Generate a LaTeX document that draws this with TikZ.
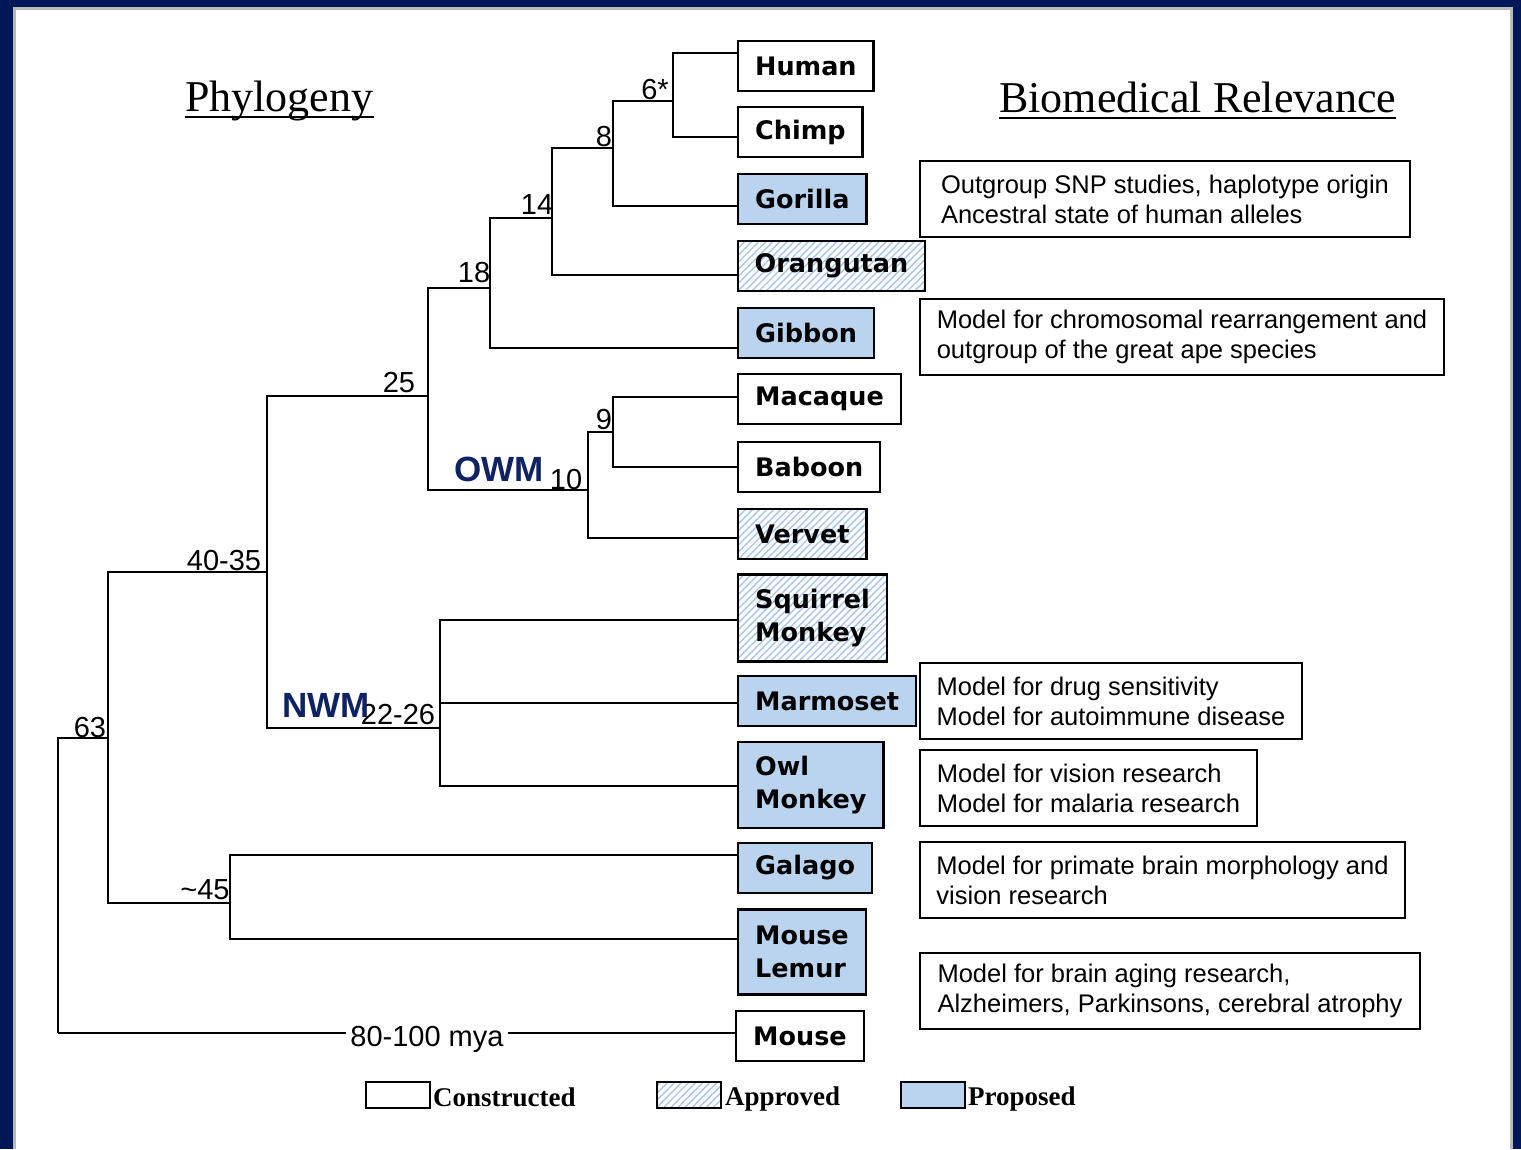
\documentclass[tikz,border=0pt]{standalone}
\usepackage{fontspec}
\setmainfont{Liberation Serif}
\setsansfont{Liberation Sans}
\newfontfamily\speciesfont{DejaVu Sans}
\usepackage{tikz}
\usetikzlibrary{positioning}
\usetikzlibrary{calc}
\usetikzlibrary{patterns.meta}

\definecolor{frameblue}{RGB}{0,24,88}
\definecolor{cladeblue}{RGB}{14,34,100}
\definecolor{proposedblue}{RGB}{186,212,240}
\definecolor{approvedblue}{RGB}{168,198,236}

\begin{document}
\begin{tikzpicture}
	[x=1pt,y=-1pt,
	species/.style={draw=black,line width=2.4pt,anchor=west,align=left,inner xsep=17pt,inner ysep=2pt,minimum height=50pt,font=\speciesfont\bfseries\fontsize{25.5}{33}\selectfont},
	proposed/.style={fill=proposedblue},
	approved/.style={preaction={fill=white},pattern={Lines[angle=45,distance=5pt,line width=1.4pt]},pattern color=approvedblue},
	note/.style={draw=black,line width=2pt,anchor=north west,align=left,minimum width=#1,minimum height=76pt,inner xsep=16pt,font=\sffamily\fontsize{25.5}{30}\selectfont},
	link/.style={draw=black,line width=2pt},
	age/.style={inner sep=0pt,font=\sffamily\fontsize{29}{32}\selectfont},
	clade/.style={inner sep=0pt,text=cladeblue,font=\sffamily\bfseries\fontsize{35}{40}\selectfont},
	heading/.style={inner sep=0pt,anchor=base west,font=\fontsize{44}{50}\selectfont},
	legendbox/.style={draw=black,line width=2pt,minimum width=64pt,minimum height=26pt,inner sep=0pt},
	legend/.style={inner sep=0pt,anchor=base west,font=\bfseries\fontsize{27}{30}\selectfont}]

	\useasboundingbox (0,0) rectangle (1521,1149);

	% Draw the frame
	\fill[frameblue] (0,0) rectangle (1521,1149);
	\fill[gray!55] (13,7) rectangle (1513,1149);
	\fill[white] (16,10) rectangle (1510,1149);

	% Draw the headings
	\draw node at (185,111) [heading](phylo){Phylogeny}
		node at (999,112) [heading](relevance){Biomedical Relevance};
	\draw[line width=2.5pt] ($(phylo.base west)+(0,6)$) -- ($(phylo.base east)+(0,6)$);
	\draw[line width=2.5pt] ($(relevance.base west)+(0,6)$) -- ($(relevance.base east)+(0,6)$);

	% Draw the species boxes
	\draw node at (737,66) [species](human){Human}
		node at (737,132) [species](chimp){Chimp}
		node at (737,199) [species,proposed](gorilla){Gorilla}
		node at (737,266) [species,approved](orangutan){Orangutan}
		node at (737,333) [species,proposed](gibbon){Gibbon}
		node at (737,399) [species](macaque){Macaque}
		node at (737,467) [species](baboon){Baboon}
		node at (737,534) [species,approved](vervet){Vervet}
		node at (737,618) [species,approved,minimum height=87pt](squirrel){Squirrel\\Monkey}
		node at (737,701) [species,proposed](marmoset){Marmoset}
		node at (737,785) [species,proposed,minimum height=86pt](owl){Owl\\Monkey}
		node at (737,868) [species,proposed](galago){Galago}
		node at (737,952) [species,proposed,minimum height=85pt](lemur){Mouse\\Lemur}
		node at (735,1036) [species](mouse){Mouse};

	% Draw the branch points
	\coordinate (c6) at (673,101);
	\coordinate (c8) at (613,148);
	\coordinate (c14) at (552,218);
	\coordinate (c18) at (490,288);
	\coordinate (c25) at (428,396);
	\coordinate (c10) at (588,490);
	\coordinate (c9) at (613,432);
	\coordinate (c40) at (267,572);
	\coordinate (cnwm) at (440,728);
	\coordinate (c63) at (108,738);
	\coordinate (c45) at (230,903);
	\coordinate (root) at (58,1033);

	% Draw the links of the tree
	\draw[link] (c6) |- ($(human.west)+(0,-13)$)
	            (c6) |- ($(chimp.west)+(0,5)$)
	            (c8) |- (c6)
	            (c8) |- ($(gorilla.west)+(0,7)$)
	            (c14) |- (c8)
	            (c14) |- ($(orangutan.west)+(0,9)$)
	            (c18) |- (c14)
	            (c18) |- ($(gibbon.west)+(0,15)$)
	            (c25) |- (c18)
	            (c25) |- (c10)
	            (c10) |- (c9)
	            (c10) |- ($(vervet.west)+(0,4)$)
	            (c9) |- ($(macaque.west)+(0,-2)$)
	            (c9) |- (baboon.west)
	            (c40) |- (c25)
	            (c40) |- (cnwm)
	            (cnwm) |- ($(squirrel.west)+(0,2)$)
	            (cnwm) |- ($(marmoset.west)+(0,2)$)
	            (cnwm) |- ($(owl.west)+(0,1)$)
	            (c63) |- (c40)
	            (c63) |- (c45)
	            (c45) |- ($(galago.west)+(0,-13)$)
	            (c45) |- ($(lemur.west)+(0,-13)$)
	            (root) |- (c63);
	\draw[link] (root) -- node[age,pos=.545,anchor=base,yshift=-13pt,fill=white,inner xsep=4pt,inner ysep=2pt](mya){80-100 mya} ($(mouse.west)+(0,-3)$);

	% Draw the divergence times
	\draw node at (655,90) [age]{6*}
		node at (604,137) [age]{8}
		node at (537,205) [age]{14}
		node at (474,273) [age]{18}
		node at (399,383) [age]{25}
		node at (604,420) [age]{9}
		node at (566,480) [age]{10}
		node at (224,561) [age]{40-35}
		node at (398,715) [age]{22-26}
		node at (90,728) [age]{63}
		node at (205,890) [age]{\textasciitilde45};

	% Draw the clade names
	\draw node at (499,469) [clade](owm){OWM}
		node at (326,705) [clade](nwm){NWM};

	% Draw the notes
	\draw node at (919,160) [note=490pt](snp){Outgroup SNP studies, haplotype origin\\Ancestral state of human alleles}
		node at (919,298) [note=524pt](chrom){Model for chromosomal rearrangement and\\outgroup of the great ape species}
		node at (919,662) [note=382pt](drug){Model for drug sensitivity\\Model for autoimmune disease}
		node at (919,749) [note=337pt](vision){Model for vision research\\Model for malaria research}
		node at (919,841) [note=485pt](brain){Model for primate brain morphology and\\vision research}
		node at (919,952) [note=500pt](aging){Model for brain aging research,\\Alzheimers, Parkinsons, cerebral atrophy};

	% Draw the legend
	\draw node at (398,1095) [legendbox](lconstructed){}
		node at (689,1095) [legendbox,approved](lapproved){}
		node at (933,1095) [legendbox,proposed](lproposed){};
	\draw node at ($(lconstructed.east)+(2,11)$) [legend]{Constructed}
		node at ($(lapproved.east)+(3,10)$) [legend]{Approved}
		node at ($(lproposed.east)+(2,10)$) [legend]{Proposed};
\end{tikzpicture}
\end{document}
